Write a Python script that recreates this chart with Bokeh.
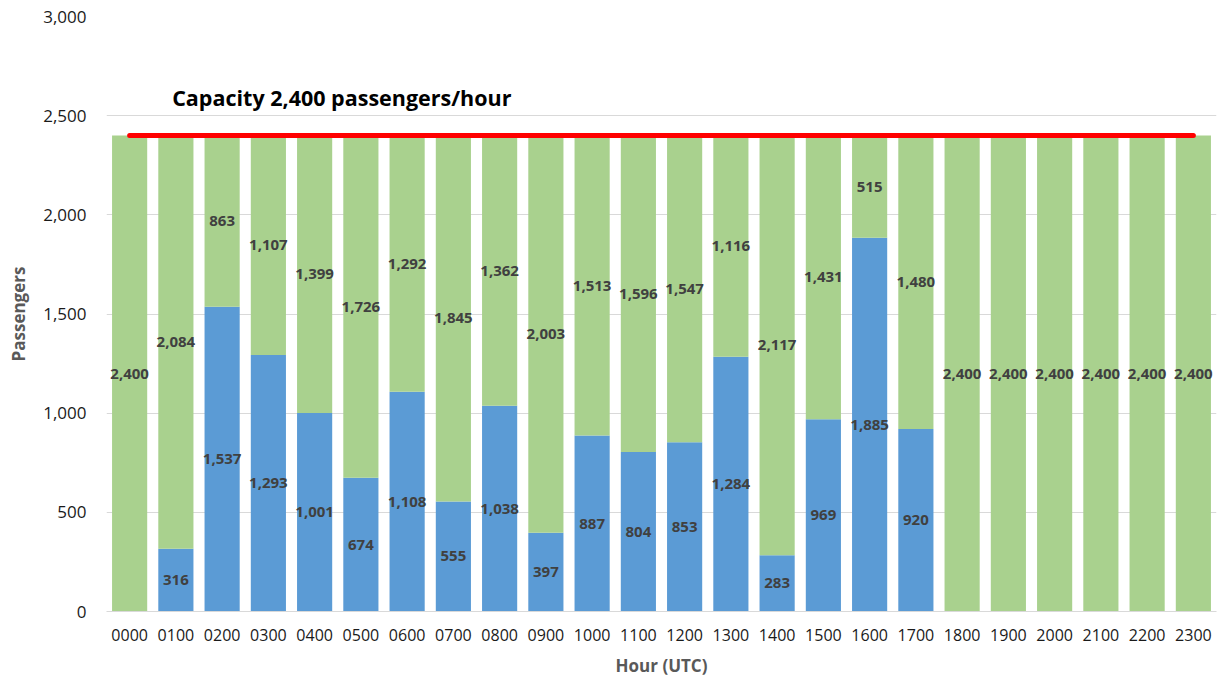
from bokeh.plotting import figure
from bokeh.models import ColumnDataSource, Range1d, NumeralTickFormatter, SingleIntervalTicker, Label
from bokeh.core.properties import value
from bokeh.embed import file_html
from bokeh.resources import INLINE

hours = ["0000", "0100", "0200", "0300", "0400", "0500", "0600", "0700", "0800", "0900",
         "1000", "1100", "1200", "1300", "1400", "1500", "1600", "1700", "1800", "1900",
         "2000", "2100", "2200", "2300"]
used = [0, 316, 1537, 1293, 1001, 674, 1108, 555, 1038, 397, 887, 804, 853, 1284, 283,
        969, 1885, 920, 0, 0, 0, 0, 0, 0]
remaining = [2400, 2084, 863, 1107, 1399, 1726, 1292, 1845, 1362, 2003, 1513, 1596, 1547,
             1116, 2117, 1431, 515, 1480, 2400, 2400, 2400, 2400, 2400, 2400]
capacity = [2400] * 24
capacity_text = "Capacity 2,400 passengers/hour"

BLUE = "#5B9BD5"
GREEN = "#A9D18E"
FONT = "Open Sans"

p = figure(x_range=hours, y_range=Range1d(0, 3000), frame_width=1110, frame_height=595,
           output_backend="svg", toolbar_location=None,
           min_border_left=106, min_border_top=16, min_border_right=4, min_border_bottom=60)
p.outline_line_color = None
p.background_fill_color = "white"

src = ColumnDataSource(dict(hour=hours, used=used, remaining=remaining))
p.vbar_stack(["used", "remaining"], x="hour", width=0.76, source=src,
             color=[BLUE, GREEN], line_color=None)

p.line(x=hours, y=capacity, line_color="#FF0000", line_width=5, line_cap="round")

# data labels
lx, ly, lt = [], [], []
for h, u, r in zip(hours, used, remaining):
    if u > 0:
        lx.append(h); ly.append(u / 2); lt.append(f"{u:,}")
    if r > 0:
        lx.append(h); ly.append(u + r / 2); lt.append(f"{r:,}")
lsrc = ColumnDataSource(dict(x=lx, y=ly, t=lt))
p.text(x="x", y="y", text="t", source=lsrc, text_align="center", text_baseline="middle",
       text_font=value(FONT), text_font_size="15px", text_font_style="bold",
       text_color="#404040")

p.add_layout(Label(x=1.42, y=2592, text=capacity_text, text_font=FONT,
                   text_font_size="21.5px", text_font_style="bold", text_color="#000000",
                   text_baseline="middle", text_align="left"))

# axes
p.yaxis.ticker = SingleIntervalTicker(interval=500)
p.yaxis.formatter = NumeralTickFormatter(format="0,0")
p.yaxis.axis_line_color = None
p.yaxis.major_tick_line_color = None
p.yaxis.minor_tick_line_color = None
p.yaxis.major_label_text_font = FONT
p.yaxis.major_label_text_font_size = "17px"
p.yaxis.major_label_text_color = "#1a1a1a"
p.yaxis.major_label_standoff = 14
p.yaxis.axis_label = "Passengers"
p.yaxis.axis_label_text_font = FONT
p.yaxis.axis_label_text_font_size = "17px"
p.yaxis.axis_label_text_font_style = "bold"
p.yaxis.axis_label_text_color = "#595959"
p.yaxis.axis_label_standoff = 10

p.xaxis.axis_line_color = "#D9D9D9"
p.xaxis.axis_line_width = 1
p.xaxis.major_tick_line_color = None
p.xaxis.minor_tick_line_color = None
p.xaxis.major_label_text_font = FONT
p.xaxis.major_label_text_font_size = "16px"
p.xaxis.major_label_text_color = "#1a1a1a"
p.xaxis.major_label_standoff = 11
p.xaxis.axis_label = "Hour (UTC)"
p.xaxis.axis_label_text_font = FONT
p.xaxis.axis_label_text_font_size = "17px"
p.xaxis.axis_label_text_font_style = "bold"
p.xaxis.axis_label_text_color = "#595959"
p.xaxis.axis_label_standoff = 10

p.xgrid.grid_line_color = None
p.ygrid.grid_line_color = "#D9D9D9"
p.ygrid.grid_line_width = 1
p.x_range.range_padding = 0

open("out.html", "w").write(file_html(p, INLINE))
